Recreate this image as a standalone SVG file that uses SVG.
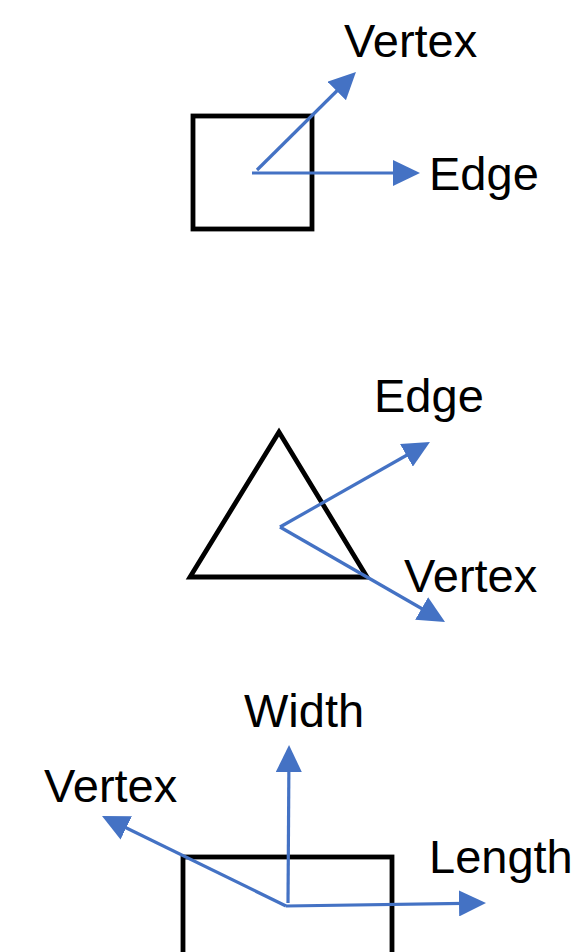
<svg xmlns="http://www.w3.org/2000/svg" width="573" height="952" viewBox="0 0 573 952">
<style>
.shape{fill:none;stroke:#000;stroke-width:4.8;stroke-linejoin:miter}
.arr{fill:none;stroke:#4472C4;stroke-width:3.2;marker-end:url(#ah)}
.lbl{font-family:"Liberation Sans",Arial,sans-serif;font-size:47px;fill:#000}
</style>
<defs>
<marker id="ah" viewBox="0 0 27 26" refX="22" refY="13" markerWidth="27" markerHeight="26" markerUnits="userSpaceOnUse" orient="auto">
<path d="M0,0 L27,13 L0,26 z" fill="#4472C4"/>
</marker>
</defs>
<rect width="573" height="952" fill="#fff"/>
<g id="square1"><rect class="shape" x="193" y="116" width="119" height="113"/></g>
<g id="triangle"><polygon class="shape" points="279,432 190,577 367,577"/></g>
<g id="rect2"><rect class="shape" x="183" y="857" width="209" height="120"/></g>
<g id="connectors">
<line class="arr" x1="252" y1="173" x2="415" y2="173"/>
<line class="arr" x1="257" y1="170" x2="352.4" y2="75.5"/>
<line class="arr" x1="280" y1="527" x2="425.6" y2="444.5"/>
<line class="arr" x1="280" y1="527" x2="440.7" y2="619.5"/>
<line class="arr" x1="288" y1="903" x2="289" y2="750"/>
<line class="arr" x1="286" y1="906" x2="481" y2="903.1"/>
<line class="arr" x1="286" y1="906" x2="106.5" y2="818.2"/>
</g>
<g id="labels">
<text class="lbl" x="344" y="57">Vertex</text>
<text class="lbl" x="429" y="190">Edge</text>
<text class="lbl" x="374" y="412">Edge</text>
<text class="lbl" x="404" y="592">Vertex</text>
<text class="lbl" x="244" y="727">Width</text>
<text class="lbl" x="44" y="802">Vertex</text>
<text class="lbl" x="429" y="873">Length</text>
</g>
</svg>
